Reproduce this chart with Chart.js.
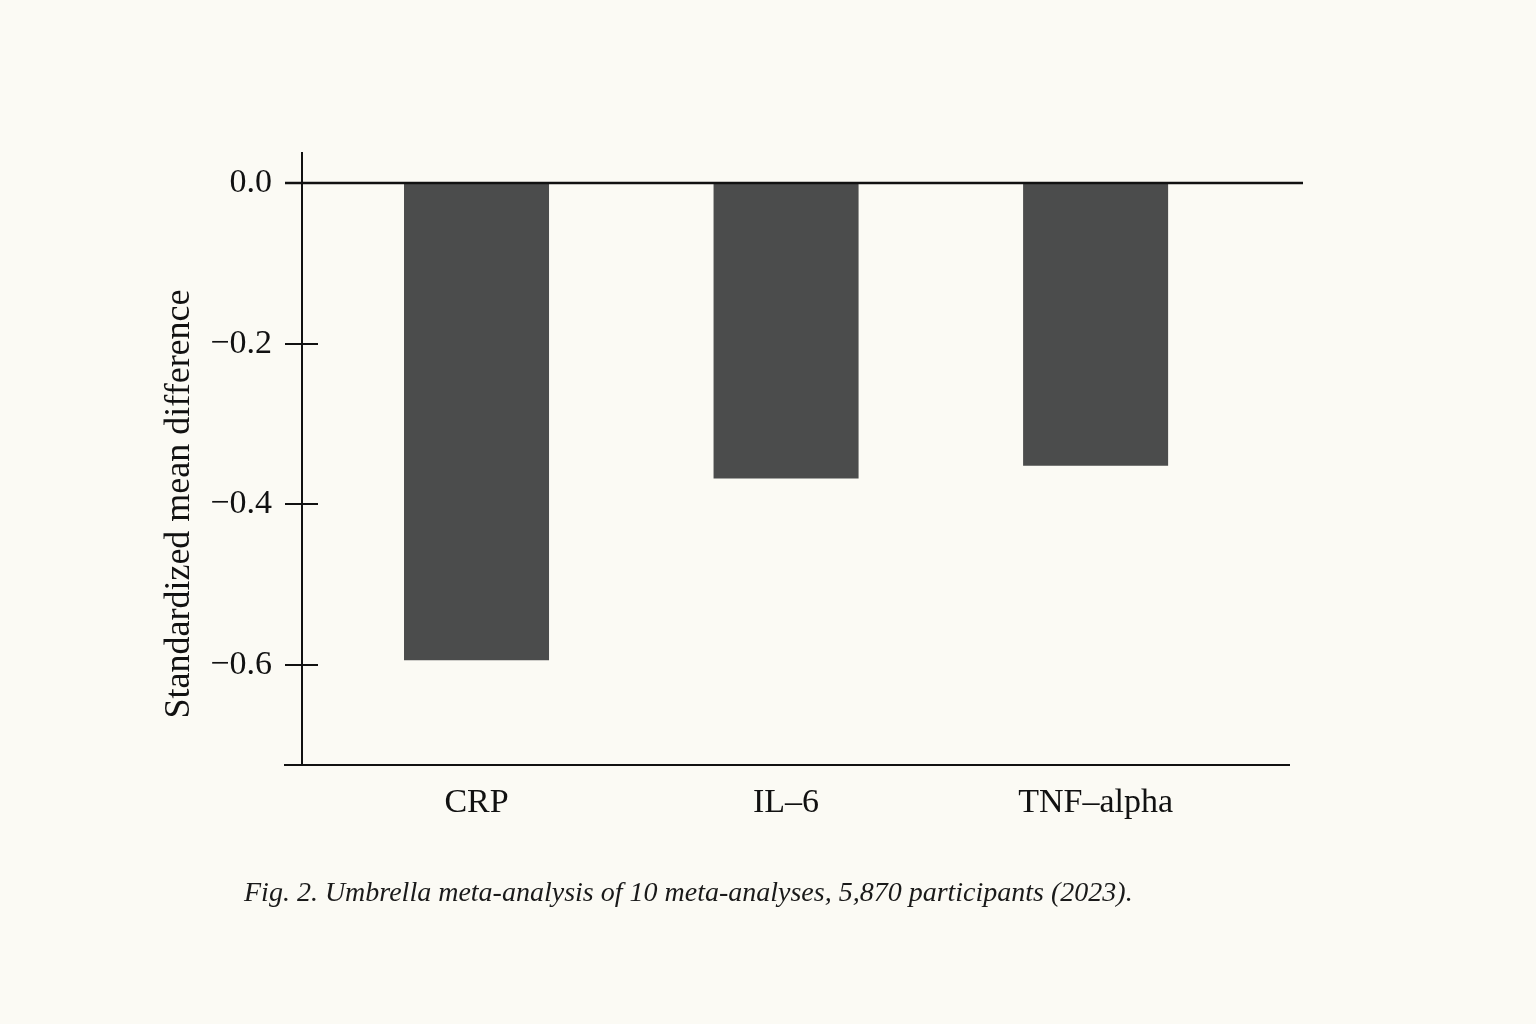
<!DOCTYPE html>
<html>
<head>
<meta charset="utf-8">
<script src="https://cdn.jsdelivr.net/npm/chart.js@4.4.1/dist/chart.umd.min.js"></script>
<style>
  html, body { margin: 0; padding: 0; background: #fbfaf4; }
  #wrap { position: relative; width: 1536px; height: 1024px; background: #fbfaf4; }
  #c { position: absolute; left: 0; top: 0; }
  #caption { position: absolute; left: 244px; top: 876px; font-family: "Liberation Serif", "DejaVu Serif", serif; font-style: italic; font-size: 28px; color: #1a1a1a; white-space: nowrap; }
</style>
</head>
<body>
<div id="wrap">
  <canvas id="c" width="1536" height="1024"></canvas>
  <div id="caption">Fig. 2. Umbrella meta-analysis of 10 meta-analyses, 5,870 participants (2023).</div>
</div>
<script>
const categories = ["CRP", "IL\u20136", "TNF\u2013alpha"];
const smdValues = [-0.594, -0.368, -0.352];
const yTicks = [0.0, -0.2, -0.4, -0.6];
const yAxisTitle = "Standardized mean difference";

const ink = "#111111";
const serif = '"Liberation Serif", "DejaVu Serif", serif';

const axesPlugin = {
  id: "axesPlugin",
  afterDatasetsDraw(chart) {
    const ctx = chart.ctx;
    const ca = chart.chartArea;
    const y = chart.scales.y;
    ctx.save();
    ctx.strokeStyle = ink;
    ctx.lineWidth = 2;
    ctx.lineCap = "butt";
    ctx.beginPath();
    ctx.moveTo(ca.left, ca.top);
    ctx.lineTo(ca.left, ca.bottom);
    ctx.stroke();
    ctx.beginPath();
    ctx.moveTo(ca.left - 18, ca.bottom);
    ctx.lineTo(ca.right, ca.bottom);
    ctx.stroke();
    yTicks.forEach(v => {
      const py = Math.round(y.getPixelForValue(v));
      ctx.beginPath();
      ctx.moveTo(ca.left - 17, py);
      ctx.lineTo(ca.left + 16, py);
      ctx.stroke();
    });
    const zy = Math.round(y.getPixelForValue(0));
    ctx.lineWidth = 2.4;
    ctx.beginPath();
    ctx.moveTo(ca.left - 17, zy);
    ctx.lineTo(ca.right + 13, zy);
    ctx.stroke();
    // y axis title
    ctx.fillStyle = ink;
    ctx.font = "36px " + serif;
    ctx.textAlign = "center";
    ctx.textBaseline = "middle";
    ctx.translate(180, 504);
    ctx.rotate(-Math.PI / 2);
    ctx.fillText(yAxisTitle, 0, 0);
    ctx.restore();
  }
};

new Chart(document.getElementById("c"), {
  type: "bar",
  data: {
    datasets: [{
      data: smdValues.map((v, i) => ({ x: i, y: v })),
      backgroundColor: "#4b4c4c",
      borderWidth: 0,
      barPercentage: 0.4685,
      categoryPercentage: 1.0
    }]
  },
  options: {
    responsive: false,
    animation: false,
    devicePixelRatio: 1,
    layout: { padding: { left: 150, right: 246, top: 152, bottom: 179 } },
    plugins: { legend: { display: false }, tooltip: { enabled: false } },
    scales: {
      x: {
        type: "linear",
        offset: false,
        min: -0.5638,
        max: 2.628,
        grid: { display: false, offset: false },
        border: { display: false },
        afterBuildTicks: s => { s.ticks = categories.map((c, i) => ({ value: i })); },
        afterFit: s => { s.height = 80; },
        ticks: {
          padding: 10,
          color: ink,
          font: { family: serif, size: 34 },
          callback: v => categories[v]
        }
      },
      y: {
        type: "linear",
        min: -0.7245,
        max: 0.0386,
        grid: { display: false },
        border: { display: false },
        afterBuildTicks: s => { s.ticks = yTicks.map(v => ({ value: v })); },
        afterFit: s => { s.width = 152; },
        ticks: {
          padding: 22,
          color: ink,
          font: { family: serif, size: 34 },
          callback: v => (v === 0 ? "0.0" : v.toFixed(1).replace("-", "\u2212"))
        }
      }
    }
  },
  plugins: [axesPlugin]
});
</script>
</body>
</html>
